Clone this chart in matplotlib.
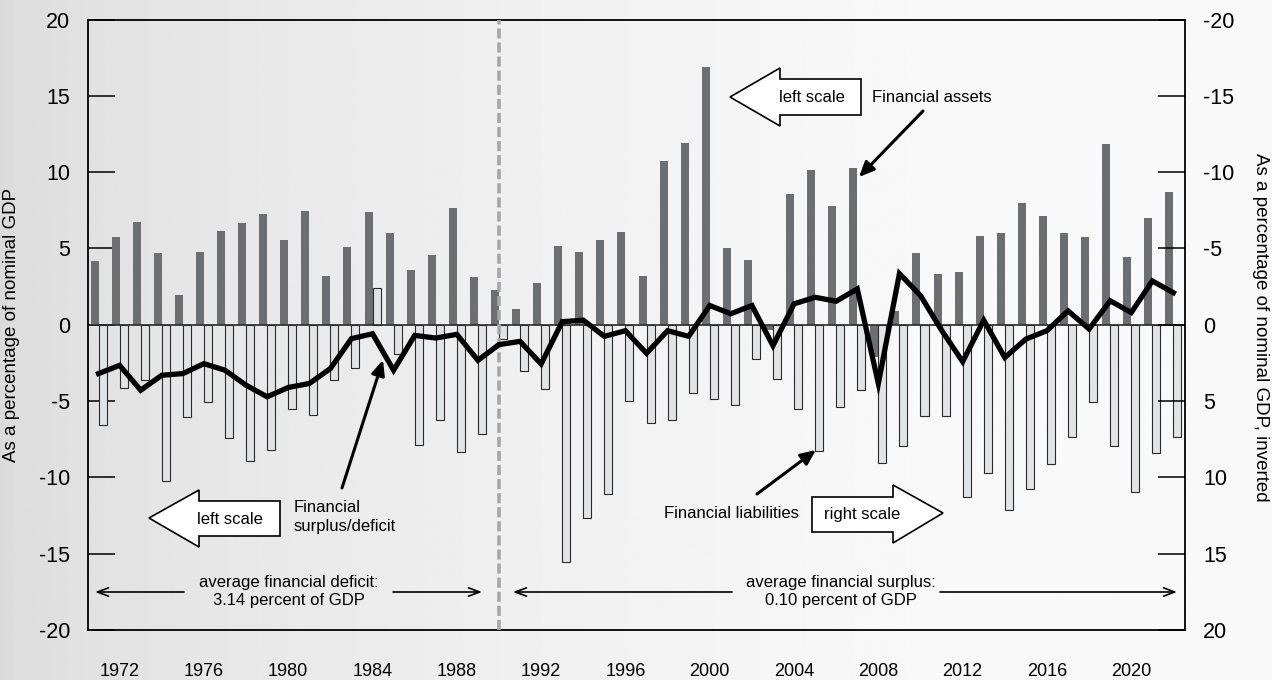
import numpy as np
import matplotlib
matplotlib.use("Agg")
import matplotlib.pyplot as plt
from matplotlib.patches import Polygon
from matplotlib.transforms import Affine2D

plt.rcParams['font.family'] = ['Liberation Sans', 'DejaVu Sans']
plt.rcParams['axes.unicode_minus'] = False

# ---------------- data (percent of nominal GDP) ----------------
years = list(range(1971, 2023))
assets = [4.15, 5.72, 6.72, 4.70, 1.94, 4.76, 6.11, 6.65, 7.28, 5.57,
          7.44, 3.20, 5.11, 7.42, 6.00, 3.59, 4.59, 7.63, 3.11, 2.26,
          1.04, 2.76, 5.15, 4.74, 5.57, 6.05, 3.20, 10.70, 11.89, 16.87,
          5.00, 4.22, -0.35, 8.55, 10.15, 7.81, 10.26, -2.09, 0.90, 4.72,
          3.33, 3.46, 5.83, 6.00, 8.00, 7.15, 5.98, 5.76, 11.81, 4.41,
          7.00, 8.72]
liabilities = [6.54, 4.15, 3.61, 10.24, 6.04, 5.09, 7.41, 8.94, 8.20, 5.50,
               5.94, 3.65, 2.83, -2.39, 1.89, 7.89, 6.22, 8.37, 7.13, 0.95,
               3.00, 4.24, 15.55, 12.63, 11.11, 5.02, 6.41, 6.26, 4.46, 4.89,
               5.28, 2.24, 3.54, 5.50, 8.26, 5.41, 4.26, 9.05, 7.94, 5.96,
               6.00, 11.29, 9.72, 12.13, 10.79, 9.11, 7.33, 5.05, 7.96, 10.98,
               8.42, 7.37]
surplus = [-3.20, -2.66, -4.29, -3.31, -3.20, -2.55, -2.98, -3.96, -4.72, -4.11,
           -3.85, -2.87, -0.91, -0.59, -2.98, -0.70, -0.87, -0.63, -2.33, -1.30,
           -1.09, -2.57, 0.20, 0.30, -0.76, -0.39, -1.87, -0.39, -0.76, 1.26,
           0.72, 1.26, -1.37, 1.37, 1.80, 1.54, 2.35, -3.85, 3.35, 1.91,
           -0.36, -2.42, 0.30, -2.15, -0.94, -0.39, 0.91, -0.28, 1.57, 0.80,
           2.87, 2.10]
year_ticks = [1972, 1976, 1980, 1984, 1988, 1992, 1996, 2000, 2004, 2008, 2012, 2016, 2020]
left_ticks = [20, 15, 10, 5, 0, -5, -10, -15, -20]
split_year = 1990

W, H = 1272, 680
fig = plt.figure(figsize=(W / 100, H / 100), dpi=100)

# background gradient over the whole figure
bg = fig.add_axes([0, 0, 1, 1], zorder=-10)
t = np.linspace(0, 1, 600)
v = (218 + 31 * np.clip(t / 0.75, 0, 1) ** 0.6) / 255.0
grad = np.tile(v, (2, 1))
bg.imshow(grad, aspect='auto', cmap='gray', vmin=0, vmax=1, extent=[0, 1, 0, 1])
bg.axis('off')

# pixel (top-left origin) transform for annotations
T = Affine2D().scale(1 / W, -1 / H).translate(0, 1) + fig.transFigure

L, R, TOP, BOT = 88, 1185, 19.5, 630
ax = fig.add_axes([L / W, (H - BOT) / H, (R - L) / W, (BOT - TOP) / H])
ax.set_facecolor('none')
ax.set_zorder(1)

x = np.array(years, dtype=float)
ax.bar(x - 0.19, assets, width=0.38, color='#6d6e71', edgecolor='none', zorder=2)
ax.bar(x + 0.19, [-v_ for v_ in liabilities], width=0.38, color='#e2e3e5',
       edgecolor='#2a2a2a', linewidth=0.8, zorder=2)
ax.axhline(0, color='#2a2a2a', lw=1.2, zorder=2.5)
ax.plot(x, surplus, color='black', lw=3.8, solid_joinstyle='miter', zorder=4)
ax.axvline(split_year, color='#a5a6a8', lw=2.6, linestyle=(0, (2.8, 1.1)), zorder=3)

ax.set_xlim(1970.5, 2022.55)
ax.set_ylim(-20, 20)
ax.set_yticks(left_ticks)
ax.set_yticklabels([str(v_) for v_ in left_ticks])
ax.set_xticks(year_ticks)
ax.set_xticklabels([str(y) for y in year_ticks])
ax.tick_params(axis='y', direction='in', length=19.5, width=1.1, pad=13, labelsize=15.5)
ax.tick_params(axis='x', length=0, pad=24, labelsize=13)
for s in ax.spines.values():
    s.set_linewidth(1.3)
    s.set_color('black')

ax2 = ax.twinx()
ax2.set_ylim(20, -20)
ax2.set_yticks(left_ticks)
ax2.set_yticklabels([str(v_) for v_ in left_ticks])
ax2.tick_params(axis='y', direction='in', length=19.5, width=1.1, pad=13, labelsize=15.5)
for s in ax2.spines.values():
    s.set_visible(False)

fig.text(12, 325, 'As a percentage of nominal GDP', transform=T, rotation=90,
         ha='center', va='center', fontsize=13.5)
fig.text(1261, 327, 'As a percentage of nominal GDP, inverted', transform=T, rotation=270,
         ha='center', va='center', fontsize=13.5)

# block arrows
def block(pts, label, cx, cy):
    p = Polygon(pts, closed=True, transform=T, facecolor='white', edgecolor='black',
                lw=1.2, zorder=6)
    fig.add_artist(p)
    fig.text(cx, cy, label, transform=T, ha='center', va='center', fontsize=12, zorder=7)

block([(730, 97), (780, 68), (780, 79), (861, 79), (861, 115), (780, 115), (780, 126)],
      'left scale', 812, 97)
block([(149, 518), (199, 490), (199, 501), (280, 501), (280, 536), (199, 536), (199, 547)],
      'left scale', 230, 519)
block([(812, 497), (893, 497), (893, 485), (943, 513), (893, 543), (893, 532), (812, 532)],
      'right scale', 862, 514)

# callouts
fa = dict(arrowstyle='-|>,head_length=0.9,head_width=0.4', color='black', lw=2.2,
          shrinkA=0, shrinkB=0)
fig.text(872, 97, 'Financial assets', transform=T, ha='left', va='center', fontsize=12)
ax.annotate('', xy=(859, 177), xytext=(923, 111), xycoords=T, textcoords=T, arrowprops=fa,
            zorder=6)
fig.text(294, 517, 'Financial\nsurplus/deficit', transform=T, ha='left', va='center',
         fontsize=12, linespacing=1.25)
ax.annotate('', xy=(383, 360), xytext=(342, 488), xycoords=T, textcoords=T, arrowprops=fa,
            zorder=6)
fig.text(664, 514, 'Financial liabilities', transform=T, ha='left', va='center', fontsize=12)
ax.annotate('', xy=(816, 450), xytext=(757, 494), xycoords=T, textcoords=T, arrowprops=fa,
            zorder=6)

# average spans
oa = dict(arrowstyle='->,head_length=0.8,head_width=0.3', color='black', lw=1.2,
          shrinkA=0, shrinkB=0)
fig.text(289, 592, 'average financial deficit:\n3.14 percent of GDP', transform=T,
         ha='center', va='center', fontsize=12, linespacing=1.25)
ax.annotate('', xy=(95, 592), xytext=(184, 592), xycoords=T, textcoords=T, arrowprops=oa)
ax.annotate('', xy=(482, 592), xytext=(393, 592), xycoords=T, textcoords=T, arrowprops=oa)
fig.text(841, 592, 'average financial surplus:\n0.10 percent of GDP', transform=T,
         ha='center', va='center', fontsize=12, linespacing=1.25)
ax.annotate('', xy=(513, 592), xytext=(732, 592), xycoords=T, textcoords=T, arrowprops=oa)
ax.annotate('', xy=(1177, 592), xytext=(940, 592), xycoords=T, textcoords=T, arrowprops=oa)

fig.savefig('out.png', dpi=100)
